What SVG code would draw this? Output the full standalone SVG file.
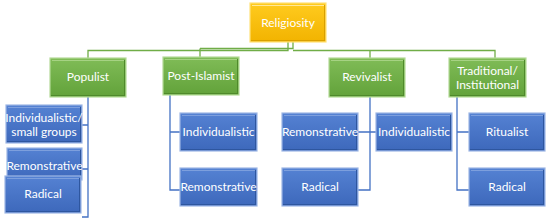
<svg xmlns="http://www.w3.org/2000/svg" width="550" height="222" viewBox="0 0 550 222">
<defs>
<linearGradient id="gY" x1="0" y1="0" x2="0" y2="1"><stop offset="0" stop-color="#FFCB1F"/><stop offset="1" stop-color="#F2B300"/></linearGradient>
<linearGradient id="gG" x1="0" y1="0" x2="0" y2="1"><stop offset="0" stop-color="#80BC57"/><stop offset="1" stop-color="#62A23A"/></linearGradient>
<linearGradient id="gB" x1="0" y1="0" x2="0" y2="1"><stop offset="0" stop-color="#5582D3"/><stop offset="1" stop-color="#3D68BB"/></linearGradient>
</defs>
<style>
.y{fill:url(#gY);stroke:#FFE27A;stroke-width:1.2}
.g{fill:url(#gG);stroke:#B5DA98;stroke-width:1.2}
.b{fill:url(#gB);stroke:#9DB6E4;stroke-width:1.2}
.hy{fill:none;stroke:#FFE89A;stroke-width:1}
.hg{fill:none;stroke:#A6D283;stroke-width:1}
.hb{fill:none;stroke:#7D9FDD;stroke-width:1}
.dg{fill:none;stroke:#4F8A2B;stroke-width:1}
.db{fill:none;stroke:#2E569F;stroke-width:1}
.dy{fill:none;stroke:#D9A000;stroke-width:1}
text{font-family:Lato,"Liberation Sans",sans-serif;font-size:12px;fill:#fff;text-anchor:middle}
.cg{fill:none;stroke:#70AD47;stroke-width:1.3}
.cb{fill:none;stroke:#4472C4;stroke-width:1.3}
</style>
<g id="connectors">
<path class="cg" d="M288 42V50.5H88V58M200 48.5V57M200 48.5H293V42M293 50.5H495V58M370 50.5V58"/>
<path class="cb" d="M88 97V217H82M82 125H88M82 169H88"/>
<path class="cb" d="M170 95V190H180M170 132H180"/>
<path class="cb" d="M370 97V190H358M358 132H376"/>
<path class="cb" d="M457 97V190H469M457 132H469"/>
</g>
<g id="religiosity"><rect class="y" x="250" y="3" width="76" height="39"/><path class="hy" d="M252 5.5H324"/><path class="dy" d="M251 40.5H325M324.5 5V41"/><text x="288" y="27">Religiosity</text></g>
<g id="populist"><rect class="g" x="50" y="58" width="76" height="39"/><path class="hg" d="M52 60.5H124"/><path class="dg" d="M51 95.5H125M124.5 60V96"/><text x="88" y="81">Populist</text></g>
<g id="post-islamist"><rect class="g" x="163" y="57" width="76" height="38"/><path class="hg" d="M165 59.5H237"/><path class="dg" d="M164 93.5H238M237.5 59V94"/><text x="201" y="80">Post-Islamist</text></g>
<g id="revivalist"><rect class="g" x="329" y="58" width="76" height="39"/><path class="hg" d="M331 60.5H403"/><path class="dg" d="M330 95.5H404M403.5 60V96"/><text x="367" y="81">Revivalist</text></g>
<g id="traditional"><rect class="g" x="449" y="58" width="77" height="39"/><path class="hg" d="M451 60.5H524"/><path class="dg" d="M450 95.5H525M524.5 60V96"/><text x="487.5" y="75">Traditional/</text><text x="487.5" y="88.5">Institutional</text></g>
<g id="pop-individualistic"><rect class="b" x="6" y="105" width="76" height="38"/><path class="hb" d="M8 107.5H80"/><path class="db" d="M7 141.5H81M80.5 107V142"/><text x="44" y="122">Individualistic/</text><text x="44" y="136">small groups</text></g>
<g id="pop-remonstrative"><rect class="b" x="7" y="148" width="75" height="32"/><path class="hb" d="M9 150.5H80"/><path class="db" d="M80.5 150V180"/><text x="44.5" y="170">Remonstrative</text></g>
<g id="pop-radical"><rect class="b" x="5" y="176" width="76" height="37"/><path class="hb" d="M7 178.5H79"/><path class="db" d="M6 211.5H80M79.5 178V212"/><text x="43" y="198">Radical</text></g>
<g id="pi-individualistic"><rect class="b" x="180" y="113" width="77" height="38"/><path class="hb" d="M182 115.5H255"/><path class="db" d="M181 149.5H256M255.5 115V150"/><text x="218.5" y="136">Individualistic</text></g>
<g id="pi-remonstrative"><rect class="b" x="180" y="168" width="77" height="38"/><path class="hb" d="M182 170.5H255"/><path class="db" d="M181 204.5H256M255.5 170V205"/><text x="218.5" y="191">Remonstrative</text></g>
<g id="rev-remonstrative"><rect class="b" x="282" y="113" width="76" height="38"/><path class="hb" d="M284 115.5H356"/><path class="db" d="M283 149.5H357M356.5 115V150"/><text x="320" y="136">Remonstrative</text></g>
<g id="rev-radical"><rect class="b" x="282" y="168" width="76" height="38"/><path class="hb" d="M284 170.5H356"/><path class="db" d="M283 204.5H357M356.5 170V205"/><text x="320" y="191">Radical</text></g>
<g id="rev-individualistic"><rect class="b" x="376" y="113" width="76" height="38"/><path class="hb" d="M378 115.5H450"/><path class="db" d="M377 149.5H451M450.5 115V150"/><text x="414" y="136">Individualistic</text></g>
<g id="trad-ritualist"><rect class="b" x="469" y="113" width="76" height="38"/><path class="hb" d="M471 115.5H543"/><path class="db" d="M470 149.5H544M543.5 115V150"/><text x="507" y="136">Ritualist</text></g>
<g id="trad-radical"><rect class="b" x="469" y="168" width="76" height="38"/><path class="hb" d="M471 170.5H543"/><path class="db" d="M470 204.5H544M543.5 170V205"/><text x="507" y="191">Radical</text></g>
</svg>
